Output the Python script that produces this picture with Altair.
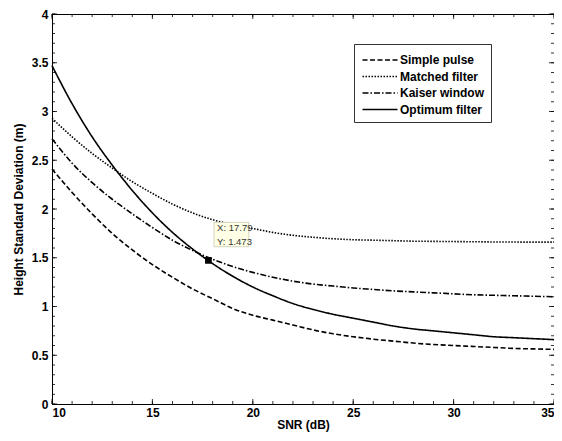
import altair as alt
import pandas as pd

# ---------------- data ----------------
snr = list(range(10, 36))
series_names = ["Simple pulse", "Matched filter", "Kaiser window", "Optimum filter"]
simple_pulse = [2.41, 2.17, 1.95, 1.75, 1.58, 1.43, 1.30, 1.18, 1.08, 0.98,
                0.91, 0.86, 0.81, 0.76, 0.72, 0.69, 0.665, 0.645, 0.625, 0.61,
                0.60, 0.59, 0.58, 0.57, 0.565, 0.56]
matched_filter = [2.93, 2.74, 2.57, 2.42, 2.28, 2.16, 2.05, 1.96, 1.89, 1.84,
                  1.80, 1.76, 1.73, 1.71, 1.695, 1.685, 1.68, 1.675, 1.67, 1.668,
                  1.666, 1.664, 1.662, 1.661, 1.66, 1.66]
kaiser_window = [2.72, 2.47, 2.27, 2.10, 1.95, 1.81, 1.68, 1.575, 1.485, 1.41,
                 1.35, 1.30, 1.26, 1.23, 1.21, 1.19, 1.175, 1.16, 1.15, 1.14,
                 1.13, 1.12, 1.115, 1.11, 1.105, 1.10]
optimum_filter = [3.47, 3.08, 2.74, 2.45, 2.19, 1.96, 1.76, 1.59, 1.44, 1.31,
                  1.20, 1.11, 1.03, 0.97, 0.92, 0.88, 0.84, 0.80, 0.77, 0.75,
                  0.73, 0.71, 0.69, 0.68, 0.67, 0.66]

x_major = [10, 15, 20, 25, 30, 35]
x_minor = list(range(10, 36))
y_major = [0, 0.5, 1, 1.5, 2, 2.5, 3, 3.5, 4]
y_minor = [round(i / 10, 1) for i in range(0, 41)]

tip_x = 17.79
tip_y = 1.473

# ---------------- frames ----------------
rows = []
for name, vals in zip(series_names,
                      [simple_pulse, matched_filter, kaiser_window, optimum_filter]):
    for x, y in zip(snr, vals):
        rows.append({"snr": x, "sd": y, "series": name})
df = pd.DataFrame(rows)

W, H = 502, 390
FONT = "Liberation Sans"
XT = "SNR (dB)"
YT = "Height Standard Deviation (m)"

xscale = alt.Scale(domain=[10, 35], nice=False, zero=False)
yscale = alt.Scale(domain=[0, 4], nice=False, zero=False)

lines = alt.Chart(df).mark_line(color="black", strokeWidth=1.6, interpolate="monotone").encode(
    x=alt.X("snr:Q", scale=xscale, title=XT,
            axis=alt.Axis(values=x_major, ticks=False, grid=False, labelPadding=3,
                          titlePadding=1)),
    y=alt.Y("sd:Q", scale=yscale, title=YT,
            axis=alt.Axis(values=y_major, format="~g", ticks=False, grid=False,
                          labelPadding=4, titlePadding=6)),
    strokeDash=alt.StrokeDash(
        "series:N",
        sort=series_names,
        scale=alt.Scale(domain=series_names,
                        range=[[5, 2.5], [1.5, 1.5], [6, 2, 1.5, 2], [1, 0]]),
        legend=alt.Legend(title=None, orient="none", legendX=302, legendY=30,
                          symbolType="M-2,0H2", symbolSize=306, symbolOffset=10,
                          symbolStrokeWidth=1.6, symbolStrokeColor="black",
                          labelFont=FONT, labelFontWeight="bold", labelFontSize=12,
                          labelColor="black", labelOffset=10,
                          fillColor="white", strokeColor="#333333",
                          padding=6, rowPadding=0.5),
    ),
)

def xticks(vals, length):
    d = pd.DataFrame({"snr": vals})
    bottom = alt.Chart(d).mark_rule(color="black", strokeWidth=0.8).encode(
        x=alt.X("snr:Q", scale=xscale, title=XT), y=alt.value(H), y2=alt.value(H - length))
    top = alt.Chart(d).mark_rule(color="black", strokeWidth=0.8).encode(
        x=alt.X("snr:Q", scale=xscale, title=XT), y=alt.value(0), y2=alt.value(length))
    return [bottom, top]

def yticks(vals, length):
    d = pd.DataFrame({"sd": vals})
    left = alt.Chart(d).mark_rule(color="black", strokeWidth=0.8).encode(
        y=alt.Y("sd:Q", scale=yscale, title=YT), x=alt.value(0), x2=alt.value(length))
    right = alt.Chart(d).mark_rule(color="black", strokeWidth=0.8).encode(
        y=alt.Y("sd:Q", scale=yscale, title=YT), x=alt.value(W), x2=alt.value(W - length))
    return [left, right]

tick_layers = xticks(x_major, 5) + xticks(x_minor, 3) + yticks(y_major, 5) + yticks(y_minor, 3)

# data tip
tip_df = pd.DataFrame({"snr": [tip_x], "sd": [tip_y]})
box_df = pd.DataFrame({"snr": [tip_x + 0.28], "snr2": [tip_x + 2.01],
                       "sd": [tip_y + 0.14], "sd2": [tip_y + 0.39]})
txt_df = pd.DataFrame({"snr": [tip_x + 0.43, tip_x + 0.43],
                       "sd": [tip_y + 0.33, tip_y + 0.19],
                       "label": [f"X: {tip_x}", f"Y: {tip_y}"]})

tip_box = alt.Chart(box_df).mark_rect(fill="#ffffe6", stroke="#c8c8b4", strokeWidth=0.8).encode(
    x=alt.X("snr:Q", scale=xscale, title=XT), x2="snr2:Q",
    y=alt.Y("sd:Q", scale=yscale, title=YT), y2="sd2:Q")
tip_text = alt.Chart(txt_df).mark_text(align="left", baseline="middle", font=FONT,
                                       fontSize=9.5, color="#333333").encode(
    x=alt.X("snr:Q", scale=xscale, title=XT),
    y=alt.Y("sd:Q", scale=yscale, title=YT),
    text="label:N")
tip_marker = alt.Chart(tip_df).mark_square(size=45, color="black", opacity=1).encode(
    x=alt.X("snr:Q", scale=xscale, title=XT),
    y=alt.Y("sd:Q", scale=yscale, title=YT))

chart = alt.layer(lines, *tick_layers, tip_box, tip_text, tip_marker).properties(
    width=W, height=H,
    autosize=alt.AutoSizeParams(type="none"),
    padding={"left": 44, "top": 6, "right": 0, "bottom": 29},
).configure_view(
    stroke="black", strokeWidth=1
).configure_axis(
    labelFont=FONT, labelFontWeight="bold", labelFontSize=12, labelColor="black",
    titleFont=FONT, titleFontWeight="bold", titleFontSize=12, titleColor="black",
    domainColor="black", domainWidth=1
)

chart.save("out.html", embed_options={"renderer": "svg", "actions": False})
